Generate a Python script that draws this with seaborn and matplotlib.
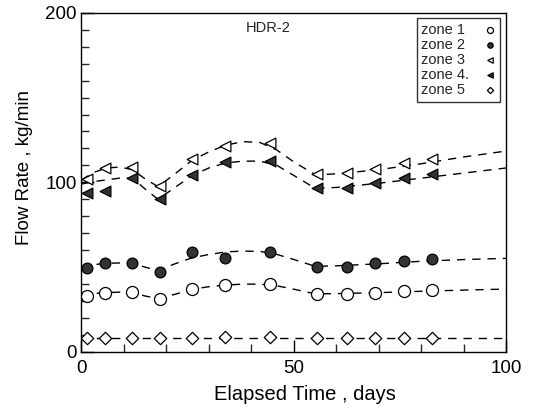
import matplotlib
matplotlib.use("Agg")
import matplotlib.pyplot as plt
import seaborn as sns
import numpy as np

# ── Data ─────────────────────────────────────────────────
days = [1.4, 5.6, 11.9, 18.4, 26.0, 33.8, 44.4, 55.3, 62.4, 69.1, 75.9, 82.4]

zone1 = [33.0, 34.9, 35.5, 31.4, 36.9, 39.5, 40.1, 34.2, 34.2, 34.9, 36.1, 36.5]
zone2 = [49.3, 52.3, 52.6, 47.3, 59.1, 55.2, 59.1, 50.3, 50.3, 52.3, 53.8, 54.8]
zone3 = [101.9, 108.2, 108.8, 97.8, 113.6, 121.4, 123.0, 104.9, 105.7, 107.7, 111.2, 113.6]
zone4 = [93.5, 95.1, 102.4, 90.0, 104.3, 112.1, 112.7, 96.5, 96.5, 99.4, 102.7, 104.7]
zone5 = [8.2, 8.2, 8.2, 8.0, 8.4, 8.8, 8.8, 8.2, 8.2, 8.2, 8.3, 8.2]

# dashed fitted curves, read at these times
curve_days = [0, 3, 6, 9, 12, 15, 18, 22, 26, 30, 34, 38, 42, 46, 50, 55, 60, 70, 80, 90, 100]
curve1 = [33.5, 34.5, 35.0, 35.3, 35.0, 33.0, 31.5, 34.0, 37.0, 38.5, 39.5, 40.0, 40.0, 39.0, 37.0,
          34.3, 34.4, 35.0, 35.8, 36.5, 37.1]
curve2 = [50.0, 51.5, 52.3, 52.5, 52.3, 50.0, 48.0, 52.0, 55.5, 57.5, 59.0, 59.5, 59.3, 57.5, 54.5,
          50.5, 50.8, 52.0, 53.5, 54.5, 55.2]
curve3 = [101.5, 106.0, 108.5, 109.0, 107.5, 102.0, 97.5, 105.0, 113.0, 118.0, 122.0, 124.0, 123.5,
          119.0, 112.0, 104.5, 105.0, 107.5, 111.0, 115.0, 118.5]
curve4 = [99.0, 100.5, 101.5, 102.5, 102.5, 96.0, 90.0, 97.0, 104.0, 108.5, 111.5, 112.5, 112.5,
          110.0, 104.0, 96.5, 97.0, 99.5, 102.5, 105.5, 108.5]
curve5 = [8.2] * len(curve_days)

labels = ["zone 1", "zone 2", "zone 3", "zone 4.", "zone 5"]

# ── Style ────────────────────────────────────────────────
sns.set_theme(style="ticks")
plt.rcParams["font.family"] = ["Liberation Sans", "DejaVu Sans"]

fig = plt.figure(figsize=(5.34, 4.13), dpi=100)
ax = fig.add_axes([0.1526, 0.1477, 0.7959, 0.8215])

for c in [curve1, curve2, curve3, curve4, curve5]:
    sns.lineplot(x=curve_days, y=c, ax=ax, color="black", linewidth=1.0,
                 linestyle=(0, (6, 5)), estimator=None, sort=False)

series = [
    (zone1, "o", "white", 75),
    (zone2, "o", "#333333", 60),
    (zone3, "<", "white", 60),
    (zone4, "<", "#333333", 60),
    (zone5, "D", "white", 40),
]
for (vals, mk, fc, s), lab in zip(series, labels):
    sns.scatterplot(x=days, y=vals, ax=ax, marker=mk, s=s, facecolor=fc,
                    edgecolor="black", linewidth=0.9, label=lab, zorder=3)

ax.set_xlim(0, 100)
ax.set_ylim(0, 200)
ax.set_xticks([0, 50, 100])
ax.set_yticks([0, 100, 200])
ax.set_xticks(np.arange(0, 101, 10), minor=True)
ax.set_yticks(np.arange(0, 201, 10), minor=True)
ax.tick_params(which="major", direction="in", length=9, width=1, labelsize=13.5, colors="black")
ax.tick_params(which="minor", direction="in", length=6, width=1)
ax.tick_params(axis="x", which="major", pad=6)
for sp in ax.spines.values():
    sp.set_color("black")
    sp.set_linewidth(1.0)

ax.set_xlabel("Elapsed Time , days", fontsize=14.5, color="black")
ax.set_ylabel("Flow Rate , kg/min", fontsize=13.5, color="black")
ax.xaxis.set_label_coords(0.526, -0.098)
ax.yaxis.set_label_coords(-0.113, 0.545)
ax.text(44, 191, "HDR-2", fontsize=10.5, ha="center", va="center")

leg = ax.legend(loc="upper right", markerfirst=False, fontsize=10.5, frameon=True,
                fancybox=False, edgecolor="black", handletextpad=1.0,
                labelspacing=0.08, borderpad=0.3, handlelength=0.8,
                markerscale=0.5, borderaxespad=0,
                bbox_to_anchor=(0.985, 0.984))
leg.get_frame().set_linewidth(1.0)

# left-align legend labels while keeping markers in one column
fig.canvas.draw()
r = fig.canvas.get_renderer()
widths = [t.get_window_extent(r).width for t in leg.get_texts()]
wmax = max(widths)
rows = leg._legend_handle_box.get_children()[0].get_children()
for row, w in zip(rows, widths):
    row.sep = row.sep + (wmax - w) * 72.0 / fig.dpi

plt.savefig("out.png", dpi=100)
plt.close()
